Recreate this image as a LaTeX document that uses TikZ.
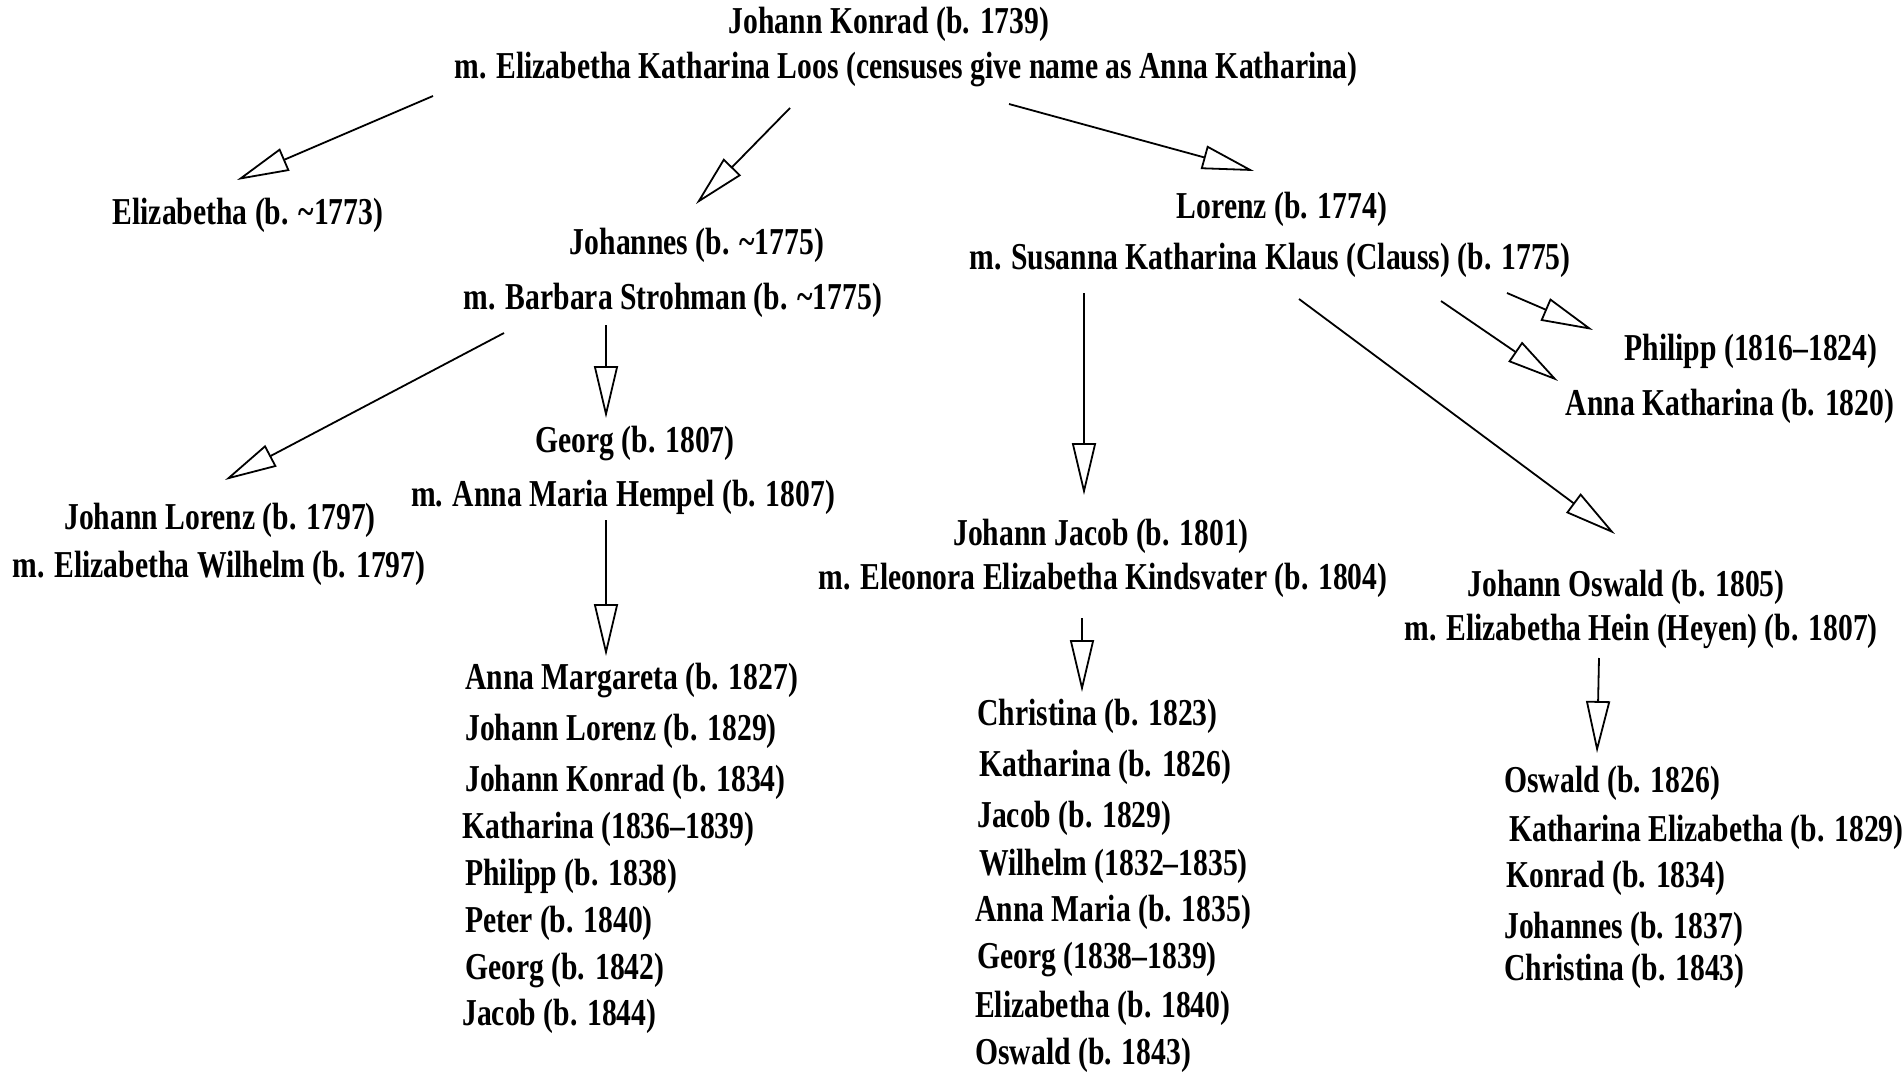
\documentclass[tikz,border=0pt]{standalone}
\usepackage{fontspec}
\setmainfont{Liberation Serif}[FakeStretch=0.78]
\usetikzlibrary{arrows.meta,calc}
\begin{document}
\begin{tikzpicture}[x=1pt,y=-1pt,
  lbl/.style={font=\fontsize{38}{44}\selectfont\bfseries, inner sep=0pt},
  kid/.style={lbl, anchor=west},
  arr/.style={line width=1.8pt, -{Triangle[open,length=52pt,width=24pt]}}]
\fill[white] (0,0) rectangle (1904,1074);
\useasboundingbox (0,0) rectangle (1904,1074);

\node[lbl] (konrad) at (889,24) {Johann Konrad (b. 1739)};
\node[lbl] (konradm) at (906,70) {m. Elizabetha Katharina Loos (censuses give name as Anna Katharina)};
\node[lbl] (eliz) at (248,215) {Elizabetha (b. \textasciitilde1773)};
\node[lbl] (johs) at (697,245) {Johannes (b. \textasciitilde1775)};
\node[lbl] (johsm) at (673,300) {m. Barbara Strohman (b. \textasciitilde1775)};
\node[lbl] (lor) at (1282,209) {Lorenz (b. 1774)};
\node[lbl] (lorm) at (1270,260) {m. Susanna Katharina Klaus (Clauss) (b. 1775)};
\node[lbl] (phil) at (1751,351) {Philipp (1816--1824)};
\node[lbl] (annak) at (1730,406) {Anna Katharina (b. 1820)};
\node[lbl] (jlor) at (220,520) {Johann Lorenz (b. 1797)};
\node[lbl] (jlorm) at (219,568) {m. Elizabetha Wilhelm (b. 1797)};
\node[lbl] (georg) at (635,444) {Georg (b. 1807)};
\node[lbl] (georgm) at (623,497) {m. Anna Maria Hempel (b. 1807)};
\node[lbl] (jjac) at (1101,536) {Johann Jacob (b. 1801)};
\node[lbl] (jjacm) at (1103,580) {m. Eleonora Elizabetha Kindsvater (b. 1804)};
\node[lbl] (josw) at (1626,587) {Johann Oswald (b. 1805)};
\node[lbl] (joswm) at (1641,631) {m. Elizabetha Hein (Heyen) (b. 1807)};

% Georg's children
\node[kid] (g1) at (465,681) {Anna Margareta (b. 1827)};
\node[kid] (g2) at (465,731) {Johann Lorenz (b. 1829)};
\node[kid] (g3) at (465,782) {Johann Konrad (b. 1834)};
\node[kid] (g4) at (462,829) {Katharina (1836--1839)};
\node[kid] (g5) at (465,876) {Philipp (b. 1838)};
\node[kid] (g6) at (465,923) {Peter (b. 1840)};
\node[kid] (g7) at (465,970) {Georg (b. 1842)};
\node[kid] (g8) at (462,1016) {Jacob (b. 1844)};

% Johann Jacob's children
\node[kid] (j1) at (977,716) {Christina (b. 1823)};
\node[kid] (j2) at (979,767) {Katharina (b. 1826)};
\node[kid] (j3) at (977,818) {Jacob (b. 1829)};
\node[kid] (j4) at (979,866) {Wilhelm (1832--1835)};
\node[kid] (j5) at (975,912) {Anna Maria (b. 1835)};
\node[kid] (j6) at (977,959) {Georg (1838--1839)};
\node[kid] (j7) at (975,1008) {Elizabetha (b. 1840)};
\node[kid] (j8) at (975,1055) {Oswald (b. 1843)};

% Johann Oswald's children
\node[kid] (o1) at (1504,783) {Oswald (b. 1826)};
\node[kid] (o2) at (1509,832) {Katharina Elizabetha (b. 1829)};
\node[kid] (o3) at (1506,878) {Konrad (b. 1834)};
\node[kid] (o4) at (1504,929) {Johannes (b. 1837)};
\node[kid] (o5) at (1504,971) {Christina (b. 1843)};

% connectors
\draw[arr] ([shift={(-473,26)}]konradm.center) -- ([shift={(-11,-35)}]eliz.center);
\draw[arr] ([shift={(-116,38)}]konradm.center) -- ([shift={(-1,-41)}]johs.center);
\draw[arr] ([shift={(103,34)}]konradm.center) -- ([shift={(-28,-38)}]lor.center);
\draw[arr] ([shift={(-169,33)}]johsm.center) -- ([shift={(5,-40)}]jlor.center);
\draw[arr] ([shift={(-67,25)}]johsm.center) -- ([shift={(-29,-26)}]georg.center);
\draw[arr] ([shift={(-17,23)}]georgm.center) -- ([shift={(141,-25)}]g1.west);
\draw[arr] ([shift={(-186,33)}]lorm.center) -- ([shift={(-17,-41)}]jjac.center);
\draw[arr] ([shift={(29,39)}]lorm.center) -- ([shift={(-11,-53)}]josw.center);
\draw[arr] ([shift={(171,41)}]lorm.center) -- ([shift={(-172,-25)}]annak.center);
\draw[arr] ([shift={(237,33)}]lorm.center) -- ([shift={(-158,-21)}]phil.center);
\draw[arr] ([shift={(-21,38)}]jjacm.center) -- ([shift={(105,-24)}]j1.west);
\draw[arr] ([shift={(-42,27)}]joswm.center) -- ([shift={(93,-30)}]o1.west);
\end{tikzpicture}
\end{document}
